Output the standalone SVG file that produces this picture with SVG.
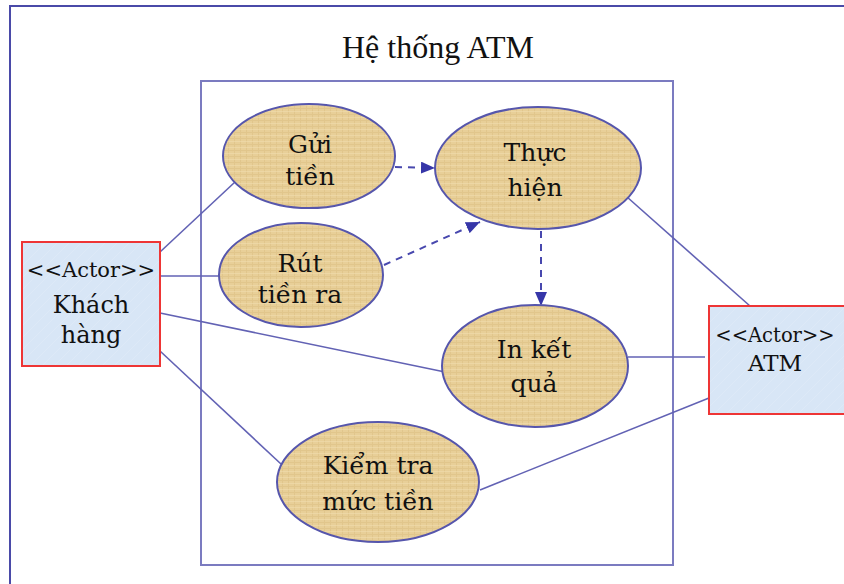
<svg xmlns="http://www.w3.org/2000/svg" width="844" height="584" viewBox="0 0 844 584">
<style>
.frame{fill:none;stroke:#4a4aa8;stroke-width:2}
.sys{fill:none;stroke:#7b7bc0;stroke-width:2}
.uc{fill:url(#tan);stroke:#5656ac;stroke-width:2}
.actor{fill:url(#blue);stroke:#ee3535;stroke-width:2}
.assoc{fill:none;stroke:#6262b4;stroke-width:1.6}
.dep{fill:none;stroke:#4848ae;stroke-width:2;stroke-dasharray:7,6}
.t{font-family:"DejaVu Serif","Liberation Serif",serif;fill:#111;text-anchor:middle}
.uct{font-size:25px}
.title{font-family:"Liberation Serif","DejaVu Serif",serif;font-size:32px;fill:#111;text-anchor:middle}
</style>
<defs>
<pattern id="tan" width="6" height="6" patternUnits="userSpaceOnUse">
<rect width="6" height="6" fill="#e8cf98"/>
<path d="M0 0.5H6M0.5 0V6" stroke="#dcc084" stroke-width="1" opacity="0.6"/>
<path d="M0 3.5H6" stroke="#f0dcae" stroke-width="1" opacity="0.6"/>
</pattern>
<pattern id="blue" width="12" height="12" patternUnits="userSpaceOnUse">
<rect width="12" height="12" fill="#d8e6f6"/>
<path d="M0 12L12 0" stroke="#e2ecf8" stroke-width="1" opacity="0.5"/>
</pattern>
<marker id="arr" viewBox="0 0 14 12" refX="14" refY="6" markerWidth="14" markerHeight="12" markerUnits="userSpaceOnUse" orient="auto">
<path d="M0 0L14 6L0 12Z" fill="#3636a8"/>
</marker>
</defs>

<g id="frame">
<path class="frame" d="M10 584V6H844"/>
</g>
<g id="system">
<rect class="sys" x="201" y="81" width="472" height="484"/>
<text class="title" x="438" y="58">Hệ thống ATM</text>
</g>

<g id="connectors">
<line class="assoc" x1="160" y1="252" x2="235" y2="182"/>
<line class="assoc" x1="160" y1="276" x2="219" y2="276"/>
<line class="assoc" x1="160" y1="313" x2="445" y2="372"/>
<line class="assoc" x1="160" y1="351" x2="281" y2="464"/>
<line class="assoc" x1="627" y1="197" x2="750" y2="306"/>
<line class="assoc" x1="628" y1="357" x2="705" y2="357"/>
<line class="assoc" x1="480" y1="490" x2="709" y2="398"/>
<line class="dep" x1="395" y1="167" x2="435" y2="168" marker-end="url(#arr)"/>
<line class="dep" x1="384" y1="265" x2="480" y2="222" marker-end="url(#arr)"/>
<line class="dep" x1="541" y1="231" x2="541" y2="306" marker-end="url(#arr)"/>
</g>

<g id="uc-gui-tien">
<ellipse class="uc" cx="309" cy="156" rx="86" ry="52"/>
<text class="t uct" x="310" y="153">Gửi</text>
<text class="t uct" x="310" y="185">tiền</text>
</g>
<g id="uc-rut-tien">
<ellipse class="uc" cx="301" cy="275" rx="82" ry="52"/>
<text class="t uct" x="300" y="272">Rút</text>
<text class="t uct" x="300" y="303">tiền ra</text>
</g>
<g id="uc-thuc-hien">
<ellipse class="uc" cx="538" cy="168" rx="103" ry="61"/>
<text class="t uct" x="535" y="161">Thực</text>
<text class="t uct" x="535" y="196">hiện</text>
</g>
<g id="uc-in-ket-qua">
<ellipse class="uc" cx="535" cy="366" rx="93" ry="61"/>
<text class="t uct" x="534" y="358">In kết</text>
<text class="t uct" x="534" y="392">quả</text>
</g>
<g id="uc-kiem-tra">
<ellipse class="uc" cx="378" cy="482" rx="101" ry="60"/>
<text class="t uct" x="378" y="474">Kiểm tra</text>
<text class="t uct" x="378" y="510">mức tiền</text>
</g>

<g id="actor-khach-hang">
<rect class="actor" x="22" y="242" width="138" height="124"/>
<text class="t" x="91" y="277" font-size="21">&lt;&lt;Actor&gt;&gt;</text>
<text class="t" x="91" y="313" font-size="24">Khách</text>
<text class="t" x="91" y="343" font-size="24">hàng</text>
</g>
<g id="actor-atm">
<rect class="actor" x="709" y="306" width="140" height="108"/>
<text class="t" x="775" y="342" font-size="19.5">&lt;&lt;Actor&gt;&gt;</text>
<text class="t" x="775" y="371" font-size="23">ATM</text>
</g>
</svg>
